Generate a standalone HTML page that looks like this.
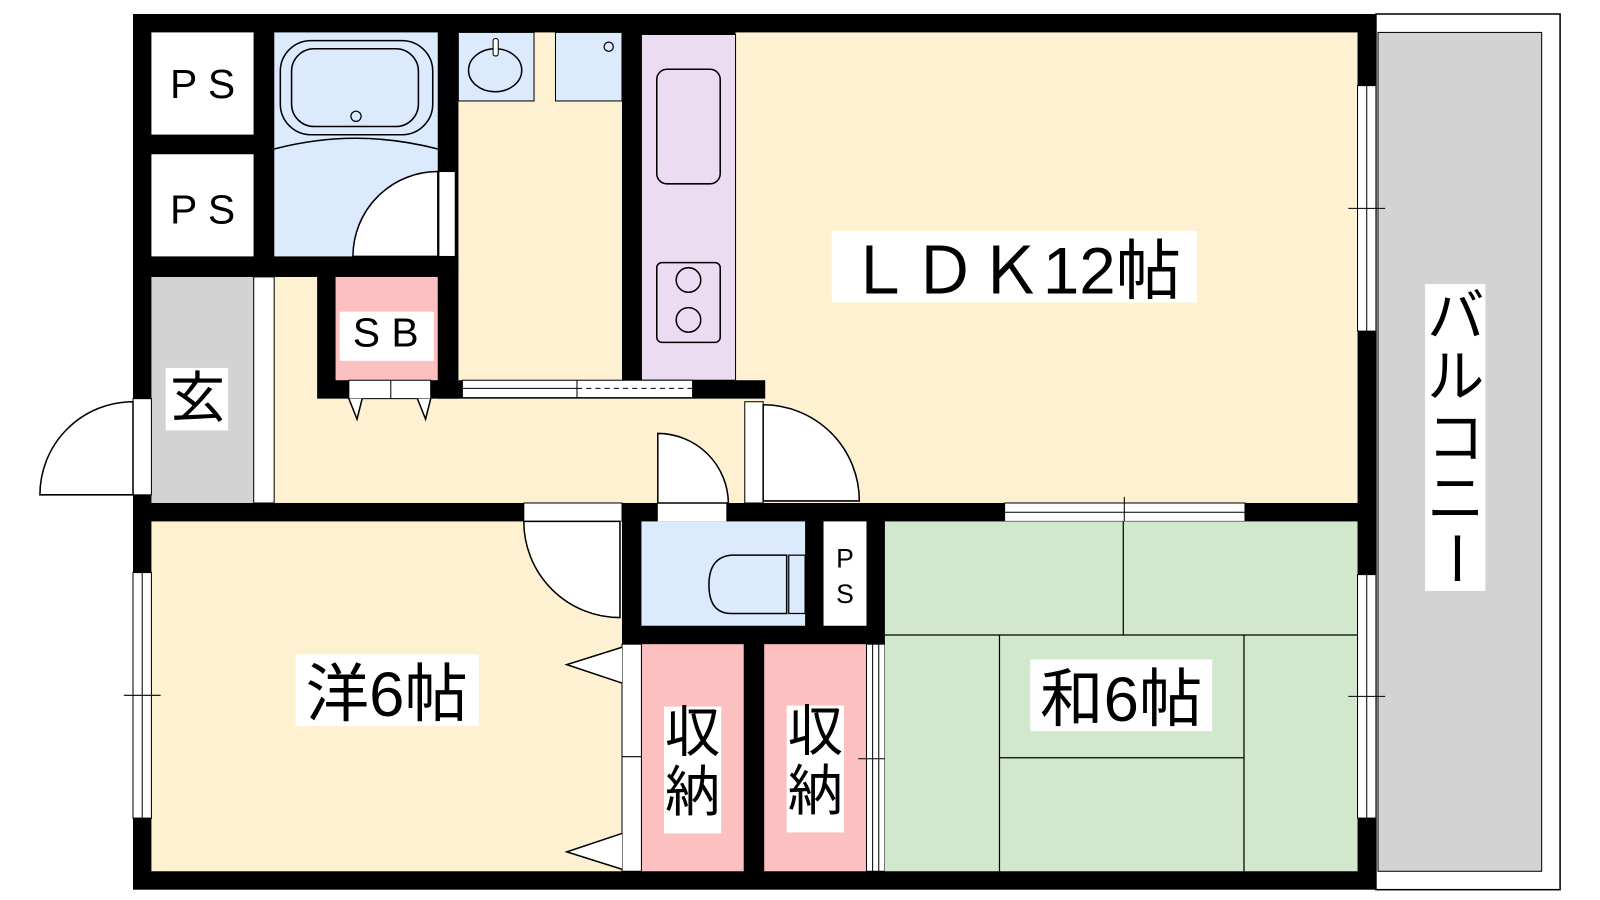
<!DOCTYPE html>
<html><head><meta charset="utf-8"><style>
html,body{margin:0;padding:0;background:#fff;}
svg{display:block}
text{font-family:"Liberation Sans","Noto Sans CJK JP",sans-serif;fill:#000}
</style></head><body>
<svg width="1600" height="900" viewBox="0 0 1600 900" xmlns="http://www.w3.org/2000/svg">
<rect width="1600" height="900" fill="#fff"/>
<g transform="translate(133,14) scale(1.023) translate(-133,-14)">
<!-- balcony -->
<rect x="1348" y="14" width="180" height="856" fill="#fff" stroke="#000" stroke-width="1.5"/>
<rect x="1350" y="32" width="160" height="820" fill="#d3d3d3" stroke="#000" stroke-width="1"/>
<!-- outer black -->
<rect x="133" y="14" width="1215" height="856" fill="#000"/>
<!-- hall / base cream -->
<rect x="271" y="271" width="1059" height="221" fill="#fdf1d2"/>
<!-- rooms -->
<rect x="151" y="32" width="100" height="100" fill="#fff"/>
<rect x="151" y="151" width="100" height="100" fill="#fff"/>
<rect x="271" y="32" width="160" height="219" fill="#dbeafc"/>
<rect x="451" y="32" width="160" height="340" fill="#fdf1d2"/>
<rect x="451" y="32" width="74" height="67" fill="#dbeafc" stroke="#000" stroke-width="1"/>
<rect x="546" y="32" width="65" height="67" fill="#dbeafc" stroke="#000" stroke-width="1"/>
<rect x="722" y="32" width="608" height="460" fill="#fdf1d2"/>
<rect x="630" y="34" width="92" height="338" fill="#ecdcf2" stroke="#000" stroke-width="1"/>
<rect x="151" y="271" width="100" height="221" fill="#d3d3d3"/>
<rect x="251" y="271" width="20" height="221" fill="#fff" stroke="#000" stroke-width="1"/>
<!-- SB -->
<rect x="313" y="271" width="138" height="119" fill="#000"/>
<rect x="331" y="271" width="100" height="101" fill="#fcc0c0"/>
<rect x="344" y="372" width="80" height="18" fill="#fff" stroke="#000" stroke-width="1"/>
<line x1="385" y1="372" x2="385" y2="390" stroke="#000"/>
<path d="M344 390 L352 410 L357 390 M411 390 L419 410 L424 390" fill="#fff" stroke="#000" stroke-width="1.5"/>
<!-- walls -->
<rect x="431" y="32" width="20" height="358" fill="#000"/>
<rect x="611" y="32" width="19" height="340" fill="#000"/>
<rect x="451" y="372" width="300" height="18" fill="#000"/>
<rect x="455" y="372" width="225" height="17" fill="#fff" stroke="#000" stroke-width="1"/>
<line x1="455" y1="380" x2="567" y2="380" stroke="#000"/>
<line x1="567" y1="380" x2="680" y2="380" stroke="#000" stroke-dasharray="5,4"/>
<line x1="567" y1="372" x2="567" y2="389" stroke="#000"/>
<rect x="151" y="251" width="300" height="20" fill="#000"/>
<rect x="251" y="32" width="20" height="239" fill="#000"/>
<rect x="151" y="132" width="100" height="19" fill="#000"/>
<!-- bathtub -->
<rect x="277" y="40" width="149" height="92" rx="30" fill="none" stroke="#000" stroke-width="1.5"/>
<rect x="288" y="48" width="124" height="76" rx="22" fill="none" stroke="#000" stroke-width="1.5"/>
<ellipse cx="351" cy="114" rx="5" ry="5" fill="none" stroke="#000" stroke-width="1.2"/>
<path d="M271 146 Q351 125 431 146" fill="none" stroke="#000" stroke-width="1.5"/>
<!-- bath door -->
<rect x="432" y="168" width="16" height="83" fill="#fff" stroke="#000" stroke-width="1"/>
<path d="M431 168 A83 83 0 0 0 348 251 L431 251 Z" fill="#fff" stroke="#000" stroke-width="1.5"/>
<!-- sink -->
<ellipse cx="487" cy="69" rx="26" ry="21" fill="none" stroke="#000" stroke-width="1.5"/>
<rect x="485" y="38" width="5" height="17" rx="2" fill="#fff" stroke="#000"/>
<circle cx="598" cy="46" r="4.5" fill="none" stroke="#000" stroke-width="1.2"/>
<!-- kitchen -->
<rect x="645" y="68" width="62" height="112" rx="10" fill="none" stroke="#000" stroke-width="1.5"/>
<rect x="645" y="257" width="62" height="78" rx="5" fill="none" stroke="#000" stroke-width="1.5"/>
<circle cx="676" cy="274" r="12" fill="none" stroke="#000" stroke-width="1.5"/>
<circle cx="676" cy="313" r="12" fill="none" stroke="#000" stroke-width="1.5"/>
<!-- entrance door -->
<rect x="133" y="390" width="18" height="94" fill="#fff" stroke="#000" stroke-width="1"/>
<path d="M133 393 A91 91 0 0 0 42 484 L133 484 Z" fill="#fff" stroke="#000" stroke-width="1.5"/>
<!-- hall wall y492 -->
<rect x="133" y="492" width="1215" height="18" fill="#000"/>
<rect x="515" y="492" width="96" height="18" fill="#fff" stroke="#000" stroke-width="1"/>
<rect x="646" y="492" width="67" height="18" fill="#fff"/>
<rect x="985" y="492" width="235" height="18" fill="#fff" stroke="#000" stroke-width="1"/>
<line x1="985" y1="501" x2="1220" y2="501" stroke="#000"/>
<line x1="1102" y1="486" x2="1102" y2="516" stroke="#000"/>
<!-- toilet door -->
<path d="M646 424 A69 69 0 0 1 715 492 L646 492 Z" fill="#fff" stroke="#000" stroke-width="1.5"/>
<!-- LDK door -->
<rect x="731" y="393" width="18" height="99" fill="#fff" stroke="#000" stroke-width="1"/>
<path d="M749 396 A94 94 0 0 1 843 490 L749 490 Z" fill="#fff" stroke="#000" stroke-width="1.5"/>
<!-- western room -->
<rect x="151" y="510" width="460" height="342" fill="#fdf1d2"/>
<path d="M515 510 A94 94 0 0 0 609 604 L609 510 Z" fill="#fff" stroke="#000" stroke-width="1.5"/>
<rect x="133" y="560" width="18" height="240" fill="#fff" stroke="#000" stroke-width="1"/>
<line x1="142" y1="560" x2="142" y2="800" stroke="#000"/>
<line x1="124" y1="680" x2="160" y2="680" stroke="#000"/>
<!-- toilet -->
<rect x="630" y="510" width="160" height="102" fill="#dbeafc"/>
<path d="M772 543 L718 543 Q696 545 696 572 Q696 600 718 600 L772 600 Z" fill="none" stroke="#000" stroke-width="1.5"/>
<rect x="774" y="543" width="16" height="57" fill="none" stroke="#000" stroke-width="1.2"/>
<rect x="808" y="510" width="42" height="102" fill="#fff"/>
<text x="829" y="555" font-size="26" text-anchor="middle">P</text>
<text x="829" y="590" font-size="26" text-anchor="middle">S</text>
<!-- storages -->
<rect x="630" y="630" width="100" height="222" fill="#fcc0c0"/>
<rect x="750" y="630" width="100" height="222" fill="#fcc0c0"/>
<rect x="611" y="630" width="19" height="222" fill="#fff" stroke="#000" stroke-width="1"/>
<line x1="611" y1="740" x2="630" y2="740" stroke="#000"/>
<path d="M611 633 L557 650 L611 668 M611 815 L557 833 L611 850" fill="#fff" stroke="#000" stroke-width="1.5"/>
<rect x="850" y="630" width="18" height="222" fill="#fff" stroke="#000" stroke-width="1"/>
<line x1="856" y1="630" x2="856" y2="852" stroke="#000"/>
<line x1="862" y1="630" x2="862" y2="852" stroke="#000"/>
<line x1="842" y1="742" x2="878" y2="742" stroke="#000"/>
<!-- japanese room -->
<rect x="868" y="510" width="462" height="342" fill="#d2e8cc"/>
<g stroke="#000" stroke-width="1.2" fill="none">
<line x1="868" y1="621" x2="1330" y2="621"/>
<line x1="1101" y1="510" x2="1101" y2="621"/>
<line x1="980" y1="621" x2="980" y2="852"/>
<line x1="1219" y1="621" x2="1219" y2="852"/>
<line x1="980" y1="741" x2="1219" y2="741"/>
</g>
<!-- right windows -->
<rect x="1330" y="84" width="18" height="240" fill="#fff" stroke="#000" stroke-width="1"/>
<line x1="1339" y1="84" x2="1339" y2="324" stroke="#000"/>
<line x1="1321" y1="204" x2="1357" y2="204" stroke="#000"/>
<rect x="1330" y="562" width="18" height="238" fill="#fff" stroke="#000" stroke-width="1"/>
<line x1="1339" y1="562" x2="1339" y2="800" stroke="#000"/>
<line x1="1321" y1="681" x2="1357" y2="681" stroke="#000"/>
<!-- labels -->
<text x="201" y="96" font-size="40" text-anchor="middle">P S</text>
<text x="201" y="219" font-size="40" text-anchor="middle">P S</text>
<rect x="335" y="305" width="92" height="48" fill="#fff"/>
<text x="380" y="339" font-size="40" text-anchor="middle">S B</text>
<rect x="165" y="360" width="61" height="61" fill="#fff"/>
<text x="196" y="408" font-size="54" text-anchor="middle">玄</text>
<rect x="816" y="226" width="357" height="70" fill="#fff"/>
<text x="994" y="287" font-size="64" text-anchor="middle">ＬＤＫ12帖</text>
<rect x="1396" y="278" width="59" height="300" fill="#fff"/>
<text x="1426" y="329" font-size="56" text-anchor="middle">バ</text>
<text x="1426" y="388" font-size="56" text-anchor="middle">ル</text>
<text x="1426" y="448" font-size="56" text-anchor="middle">コ</text>
<text x="1426" y="507" font-size="56" text-anchor="middle">ニ</text>
<text x="1426" y="566" font-size="56" text-anchor="middle" transform="rotate(90 1426 546)">ー</text>
<rect x="292" y="640" width="179" height="70" fill="#fff"/>
<text x="381" y="700" font-size="62" text-anchor="middle">洋6帖</text>
<rect x="1010" y="645" width="178" height="70" fill="#fff"/>
<text x="1099" y="705" font-size="62" text-anchor="middle">和6帖</text>
<rect x="652" y="691" width="56" height="124" fill="#fff"/>
<text x="680" y="735" font-size="54" text-anchor="middle">収</text>
<text x="680" y="793" font-size="54" text-anchor="middle">納</text>
<rect x="772" y="690" width="56" height="124" fill="#fff"/>
<text x="800" y="734" font-size="54" text-anchor="middle">収</text>
<text x="800" y="792" font-size="54" text-anchor="middle">納</text>
</g>
</svg>
</body></html>
